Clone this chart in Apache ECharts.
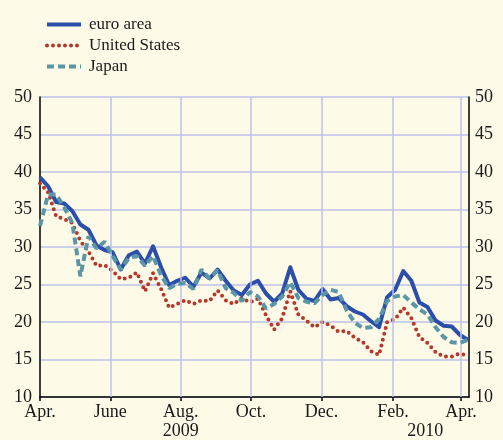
<!DOCTYPE html>
<html>
<head>
<meta charset="utf-8">
<script src="https://cdn.jsdelivr.net/npm/echarts@6/dist/echarts.min.js"></script>
<style>
html,body{margin:0;padding:0;background:#fdfbe7;}
#chart{width:503px;height:440px;}
</style>
</head>
<body>
<div id="chart"></div>
<script>
const dates = ['2009-04-01','2009-04-08','2009-04-15','2009-04-22','2009-04-29','2009-05-06','2009-05-13','2009-05-20','2009-05-27','2009-06-03','2009-06-10','2009-06-17','2009-06-24','2009-07-01','2009-07-08','2009-07-15','2009-07-22','2009-07-29','2009-08-05','2009-08-12','2009-08-19','2009-08-26','2009-09-02','2009-09-09','2009-09-16','2009-09-23','2009-09-30','2009-10-07','2009-10-14','2009-10-21','2009-10-28','2009-11-04','2009-11-11','2009-11-18','2009-11-25','2009-12-02','2009-12-09','2009-12-16','2009-12-23','2009-12-30','2010-01-06','2010-01-13','2010-01-20','2010-01-27','2010-02-03','2010-02-10','2010-02-17','2010-02-24','2010-03-03','2010-03-10','2010-03-17','2010-03-24','2010-03-31','2010-04-07'];
const euroArea = [39.3,38.1,36.0,35.8,34.8,33.0,32.3,30.2,29.6,29.3,27.0,28.9,29.4,27.8,30.1,27.3,24.9,25.5,25.9,24.7,26.6,25.8,27.0,25.5,24.2,23.6,25.0,25.5,23.8,22.7,23.8,27.3,24.3,23.1,22.8,24.4,23.0,23.2,22.1,21.4,21.0,20.1,19.3,23.3,24.3,26.8,25.5,22.6,22.0,20.2,19.5,19.4,18.3,17.6];
const unitedStates = [38.5,37.3,34.1,33.7,33.2,30.8,29.4,27.5,27.6,26.8,25.7,25.9,26.6,24.1,26.5,24.4,21.9,22.4,22.9,22.4,22.9,22.8,24.2,22.9,22.4,23.2,22.6,23.1,20.9,19.0,20.5,24.1,21.0,20.2,19.3,20.0,19.5,18.7,18.8,17.9,17.3,16.1,15.6,20.0,20.4,21.9,20.5,18.0,17.2,16.0,15.4,15.4,15.8,15.5];
const japan = [32.8,37.0,37.0,35.3,33.2,26.1,31.4,29.8,30.7,28.8,27.0,28.5,28.8,27.5,28.8,26.2,24.5,25.1,25.2,24.4,27.0,25.8,26.9,24.5,23.9,22.8,24.0,23.4,21.8,22.4,23.4,25.3,23.2,22.7,22.5,23.6,24.3,24.0,21.5,19.9,19.2,19.3,20.4,22.8,23.4,23.6,22.6,21.7,21.0,19.3,18.0,17.3,17.2,17.6];
const tickDates = ['2009-04-01','2009-06-01','2009-08-01','2009-10-01','2009-12-01','2010-02-01','2010-04-01'];
const tickLabels = ['Apr.','June','Aug.','Oct.','Dec.','Feb.','Apr.'];
const yearDates = ['2009-08-01','2010-03-01'];
const yearLabels = ['2009','2010'];
const xStart = '2009-04-01';
const xEnd = '2010-04-08';

function ts(s){ return Date.UTC(+s.slice(0,4), +s.slice(5,7) - 1, +s.slice(8,10)); }
function pairs(vals){ return vals.map((v,i)=>[ts(dates[i]), v]); }
function labelFor(keys, labels){
  const t = keys.map(ts);
  return function(v){
    let best = 0, bd = Infinity;
    t.forEach((k,i)=>{ const d = Math.abs(k - v); if (d < bd){ bd = d; best = i; } });
    return labels[best];
  };
}

const FONT = '"Liberation Serif", "Times New Roman", serif';
const GRIDC = '#bcc2ea';
const chart = echarts.init(document.getElementById('chart'));
chart.setOption({
  backgroundColor: '#fdfbe7',
  animation: false,
  textStyle: { fontFamily: FONT, color: '#1a1a1a' },
  legend: {
    data: ['euro area','United States','Japan'],
    orient: 'vertical', left: 40, top: 11,
    itemWidth: 34, itemHeight: 14, itemGap: 4,
    itemStyle: { opacity: 0 },
    lineStyle: { width: 4 },
    textStyle: { fontFamily: FONT, fontSize: 17, color: '#1a1a1a', padding: [0,0,0,3] }
  },
  grid: { left: 40, right: 34, top: 97, bottom: 43, containLabel: false },
  xAxis: [{
    type: 'value', min: ts(xStart), max: ts(xEnd),
    axisLine: { show: true, onZero: false, lineStyle: { color: '#000', width: 1.5 } },
    axisTick: { show: true, customValues: tickDates.map(ts), length: 4, lineStyle: { color: '#000', width: 1.5 } },
    axisLabel: { customValues: tickDates.map(ts), formatter: labelFor(tickDates, tickLabels), fontFamily: FONT, fontSize: 18, color: '#1a1a1a', margin: 6, showMinLabel: true, showMaxLabel: true },
    splitLine: { show: false }
  },{
    type: 'value', min: ts(xStart), max: ts(xEnd), position: 'bottom',
    axisLine: { show: false, onZero: false }, axisTick: { show: false },
    axisLabel: { customValues: yearDates.map(ts), formatter: labelFor(yearDates, yearLabels), fontFamily: FONT, fontSize: 18, color: '#1a1a1a', margin: 25 },
    splitLine: { show: false }
  }],
  yAxis: [{
    type: 'value', min: 10, max: 50, interval: 5, position: 'left',
    axisLine: { show: true, lineStyle: { color: '#000', width: 1.5 } },
    axisTick: { show: false },
    axisLabel: { fontFamily: FONT, fontSize: 18, color: '#1a1a1a', margin: 8 },
    splitLine: { show: true, lineStyle: { color: GRIDC, width: 1.5 } }
  },{
    type: 'value', min: 10, max: 50, interval: 5, position: 'right',
    axisLine: { show: true, lineStyle: { color: '#000', width: 1.5 } },
    axisTick: { show: false },
    axisLabel: { fontFamily: FONT, fontSize: 18, color: '#1a1a1a', margin: 6 },
    splitLine: { show: false }
  }],
  series: [{
    name: 'gridlines', type: 'line', data: [], z: 0, silent: true,
    markLine: {
      silent: true, symbol: 'none', animation: false,
      label: { show: false },
      lineStyle: { color: GRIDC, width: 1.5, type: 'solid' },
      data: tickDates.slice(1).map(d => ({ xAxis: ts(d) }))
    }
  },{
    name: 'euro area', type: 'line', data: pairs(euroArea), symbol: 'none', smooth: false,
    lineStyle: { color: '#2b4eaa', width: 4, join: 'round' }, itemStyle: { color: '#2b4eaa' }, z: 3
  },{
    name: 'United States', type: 'line', data: pairs(unitedStates), symbol: 'none',
    lineStyle: { color: '#b8372d', width: 4, type: [0, 6], cap: 'round' }, itemStyle: { color: '#b8372d' }, z: 4
  },{
    name: 'Japan', type: 'line', data: pairs(japan), symbol: 'none',
    lineStyle: { color: '#5b96a6', width: 4, type: [7, 4] }, itemStyle: { color: '#5b96a6' }, z: 5
  }]
});
</script>
</body>
</html>
